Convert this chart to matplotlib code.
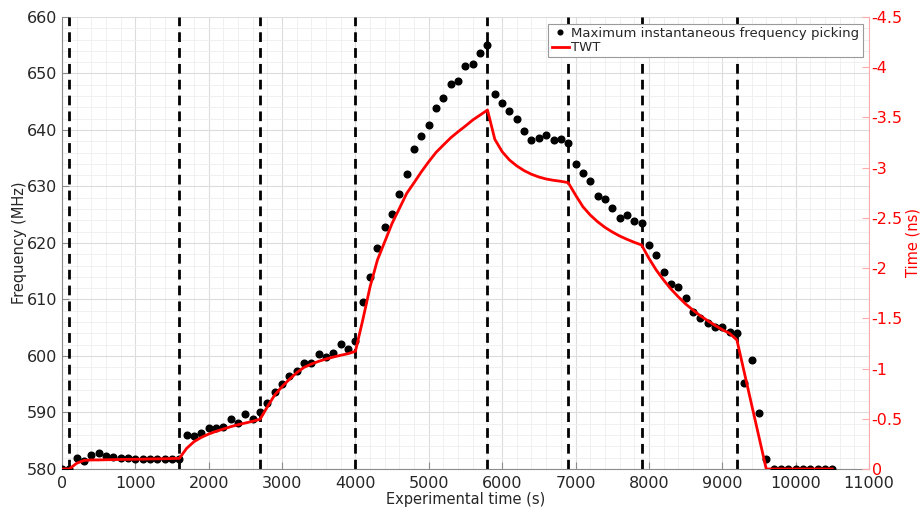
import numpy as np
import matplotlib
matplotlib.use("Agg")
import matplotlib.pyplot as plt
from matplotlib.ticker import MultipleLocator, FuncFormatter

# experiment timeline, one picking every 100 s
time_s = np.arange(0, 10600, 100)

freq_mhz = [
    580.0, 580.0, 581.9, 581.4, 582.4, 582.9, 582.3, 582.1, 581.9, 581.9,
    581.8, 581.8, 581.8, 581.8, 581.8, 581.8, 581.8, 586.0, 585.8, 586.4,
    587.3, 587.3, 587.5, 588.8, 588.2, 589.8, 588.9, 590.0, 591.7, 593.6,
    595.0, 596.5, 597.3, 598.8, 598.7, 600.3, 599.8, 600.5, 602.1, 601.3,
    602.7, 609.6, 614.0, 619.2, 622.9, 625.1, 628.6, 632.2, 636.6, 638.9,
    640.8, 643.9, 645.7, 648.2, 648.6, 651.3, 651.6, 653.6, 655.0, 646.4,
    644.7, 643.4, 642.0, 639.9, 638.3, 638.5, 639.2, 638.2, 638.4, 637.7,
    633.9, 632.3, 631.0, 628.3, 627.7, 626.2, 624.5, 625.0, 623.9, 623.6,
    619.6, 617.9, 614.9, 612.8, 612.2, 610.3, 607.8, 606.7, 605.8, 605.2,
    605.2, 604.3, 604.1, 595.2, 599.3, 589.9, 581.7, 580.0, 580.0, 580.0,
    580.0, 580.0, 580.0, 580.0, 580.0, 580.0,
]

twt_ns = [
    0.0, 0.0, -0.057, -0.085, -0.09, -0.09, -0.092, -0.093, -0.095, -0.096,
    -0.097, -0.098, -0.1, -0.101, -0.102, -0.104, -0.106, -0.206, -0.272, -0.315,
    -0.348, -0.375, -0.398, -0.421, -0.441, -0.458, -0.475, -0.495, -0.62, -0.737,
    -0.82, -0.893, -0.959, -1.012, -1.045, -1.072, -1.095, -1.115, -1.132, -1.148,
    -1.172, -1.483, -1.815, -2.081, -2.263, -2.446, -2.595, -2.745, -2.851, -2.96,
    -3.06, -3.153, -3.226, -3.298, -3.358, -3.415, -3.475, -3.524, -3.574, -3.282,
    -3.159, -3.076, -3.017, -2.97, -2.934, -2.907, -2.887, -2.874, -2.864, -2.851,
    -2.728, -2.612, -2.529, -2.462, -2.406, -2.36, -2.32, -2.287, -2.257, -2.23,
    -2.098, -1.981, -1.882, -1.792, -1.715, -1.643, -1.583, -1.526, -1.477, -1.431,
    -1.387, -1.351, -1.284, -0.963, -0.642, -0.321, 0.0, 0.0, 0.0, 0.0,
    0.0, 0.0, 0.0, 0.0, 0.0, 0.0,
]

# injection / stage changes
stage_times = [100, 1600, 2700, 4000, 5800, 6900, 7900, 9200]

axis_grey = "#8c8c8c"
right_red = "#ff0000"

plt.rcParams["font.family"] = "DejaVu Sans"
fig = plt.figure(figsize=(9.21, 5.13), dpi=100)
ax1 = fig.add_axes([0.0673, 0.0858, 0.8762, 0.8811])

ax1.set_xlim(0, 11000)
ax1.set_ylim(580, 660)
ax1.xaxis.set_major_locator(MultipleLocator(1000))
ax1.xaxis.set_minor_locator(MultipleLocator(200))
ax1.yaxis.set_major_locator(MultipleLocator(10))
ax1.yaxis.set_minor_locator(MultipleLocator(2))
ax1.grid(which="major", color="#dcdcdc", linewidth=0.8)
ax1.grid(which="minor", color="#eeeeee", linewidth=0.6)
ax1.set_axisbelow(True)

for t in stage_times:
    ax1.axvline(t, color="black", linewidth=2, linestyle=(0, (3.5, 2.2)), zorder=2)

dots, = ax1.plot(time_s, freq_mhz, "o", color="black", markersize=4.8,
                 linestyle="none", zorder=3,
                 label="Maximum instantaneous frequency picking")

ax1.set_xlabel("Experimental time (s)", fontsize=10.5, color="#262626", labelpad=1)
ax1.set_ylabel("Frequency (MHz)", fontsize=10.5, color="#262626", labelpad=0)
ax1.tick_params(which="both", direction="in", colors=axis_grey,
                labelcolor="#262626", labelsize=11.5)
ax1.tick_params(which="major", length=5)
ax1.tick_params(which="minor", length=0)
ax1.tick_params(axis="x", pad=5)
for side in ["left", "bottom"]:
    ax1.spines[side].set_color(axis_grey)
for side in ["top", "right"]:
    ax1.spines[side].set_visible(False)

ax2 = ax1.twinx()
ax2.set_ylim(0, -4.5)
ax2.yaxis.set_major_locator(MultipleLocator(0.5))
ax2.yaxis.set_major_formatter(FuncFormatter(lambda v, p: "%g" % v))
line, = ax2.plot(time_s, twt_ns, color=right_red, linewidth=2, zorder=4, label="TWT")
ax2.set_ylabel("Time (ns)", fontsize=10.5, color=right_red, labelpad=2)
ax2.tick_params(axis="y", direction="in", length=5, colors="#ffaaaa",
                labelcolor=right_red, labelsize=11.5, pad=2)
ax2.spines["right"].set_color("#ffaaaa")
for side in ["top", "left", "bottom"]:
    ax2.spines[side].set_visible(False)

leg = ax2.legend(handles=[dots, line], loc="upper right",
                 bbox_to_anchor=(0.9925, 0.9855), fontsize=9.5,
                 markerscale=0.7, handlelength=1.3, handletextpad=0.2,
                 borderpad=0.25, labelspacing=0.1, borderaxespad=0,
                 fancybox=False, framealpha=1, edgecolor="#9a9a9a")
leg.get_frame().set_linewidth(0.8)
for txt in leg.get_texts():
    txt.set_color("#262626")

fig.savefig("out.png", dpi=100)
